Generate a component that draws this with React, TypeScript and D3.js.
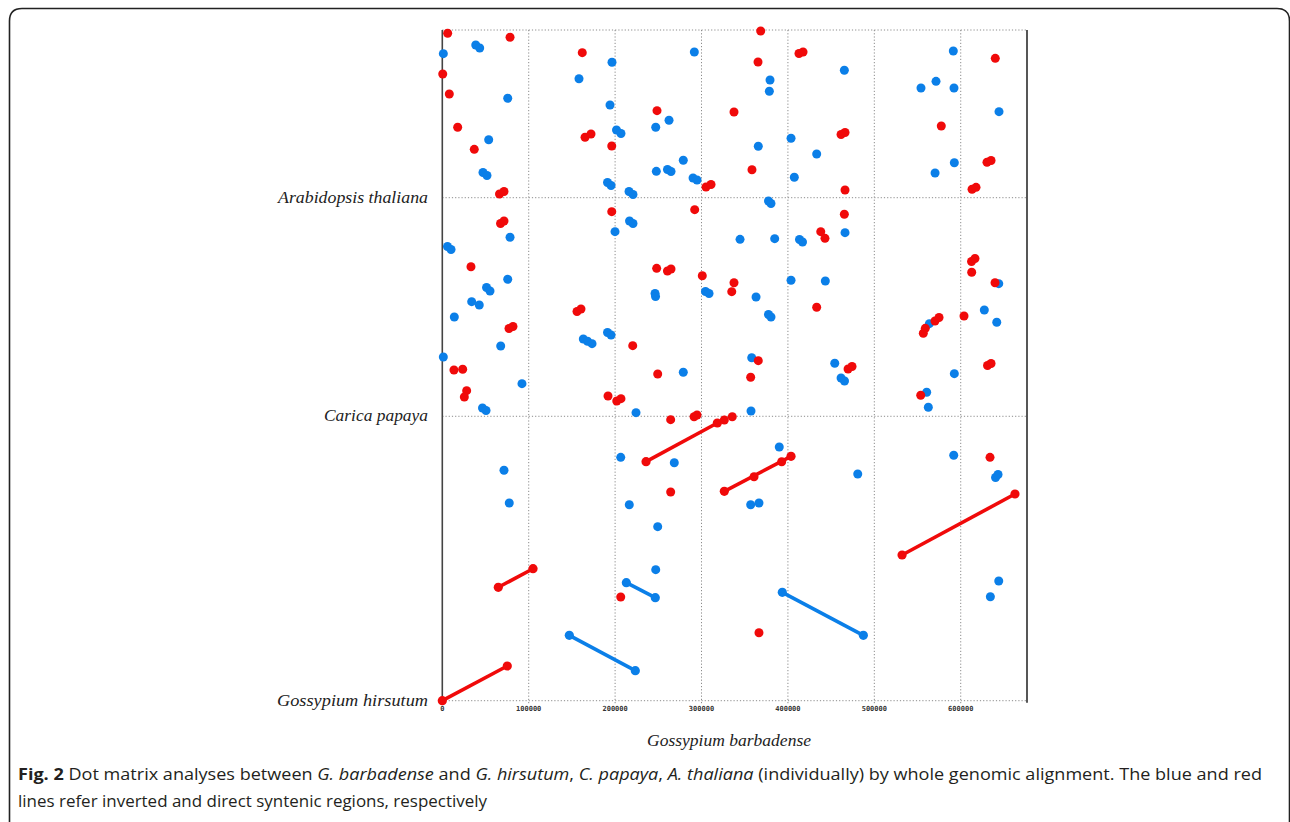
import React from "react";
import * as d3 from "d3";

// ---- data (x: G. barbadense position in kb; y: cumulative position in kb over the three genomes) ----
const genomeNames = ["Gossypium hirsutum", "Carica papaya", "Arabidopsis thaliana"];
const genomeLengthsKb = [621.9, 478.0, 366.7];
const xGenomeName = "Gossypium barbadense";
const xLengthKb = 676.7;
const xTicksKb = [0, 100, 200, 300, 400, 500, 600];

// direct syntenic hits (red)
const redDots: [number, number][] = [
  [6.2, 1459.4], [78.4, 1450.7], [0.5, 1370.4], [8.1, 1326.7], [17.8, 1253.9], [37.0, 1205.7],
  [66.2, 1108.0], [71.4, 1113.5], [162.0, 1417.0], [165.2, 1232.0], [172.1, 1239.2], [196.1, 1213.0],
  [248.5, 1290.2], [337.6, 1287.3], [305.2, 1123.3], [311.0, 1128.8], [368.5, 1464.4], [365.4, 1396.6],
  [358.4, 1161.1], [412.8, 1415.3], [417.5, 1418.5], [461.5, 1238.1], [466.1, 1242.5], [466.1, 1116.8],
  [577.5, 1256.7], [640.0, 1404.7], [630.4, 1177.3], [635.1, 1181.3], [613.1, 1118.3], [617.7, 1122.6],
  [67.4, 1043.5], [71.4, 1049.0], [33.2, 949.0], [77.2, 813.9], [81.8, 818.3], [13.5, 723.1], [23.6, 724.7],
  [28.2, 677.9], [25.5, 664.1], [155.9, 851.1], [160.5, 856.5], [196.1, 1069.3], [220.4, 776.3], [191.8, 666.3],
  [201.9, 655.4], [206.8, 660.4], [248.1, 945.5], [260.6, 939.6], [264.7, 944.0], [249.3, 714.4],
  [292.1, 1073.7], [291.4, 621.0], [294.8, 624.7], [300.9, 929.3], [337.6, 914.0], [335.0, 894.4],
  [365.7, 743.5], [356.9, 707.2], [438.0, 1025.6], [442.9, 1011.1], [465.3, 1063.6], [433.3, 860.3],
  [469.6, 725.3], [474.2, 730.8], [570.2, 830.3], [574.9, 838.0], [556.7, 803.4], [559.0, 814.3],
  [553.7, 667.8], [612.5, 960.4], [616.5, 967.0], [612.7, 936.8], [639.7, 914.0], [603.8, 841.2],
  [631.0, 733.0], [635.1, 737.4],
  [264.3, 614.5], [326.4, 613.8], [335.6, 621.0], [264.3, 456.4], [206.5, 226.8], [366.5, 148.7],
  [633.9, 532.2], [360.8, 489.8], [392.8, 522.6],
];

// inverted syntenic hits (blue)
const blueDots: [number, number][] = [
  [1.2, 1414.8], [38.7, 1433.8], [43.3, 1427.3], [75.7, 1317.3], [53.7, 1226.7], [47.1, 1155.0], [51.7, 1148.5],
  [158.2, 1360.1], [196.4, 1396.0], [194.1, 1302.6], [201.6, 1248.0], [206.8, 1240.3], [191.2, 1133.2], [195.3, 1126.6],
  [216.1, 1113.5], [220.7, 1106.9], [247.0, 1253.9], [262.4, 1269.2], [278.9, 1181.7], [247.7, 1157.6],
  [260.6, 1161.6], [264.7, 1157.2], [290.2, 1143.0], [294.8, 1138.6], [291.7, 1418.5], [379.3, 1357.3],
  [378.5, 1332.6], [365.7, 1212.3], [465.3, 1378.5], [403.6, 1229.8], [433.3, 1195.5], [407.4, 1144.5],
  [591.4, 1420.7], [571.4, 1354.4], [554.0, 1339.8], [592.2, 1339.8], [644.3, 1288.0], [592.6, 1176.4], [570.3, 1153.9],
  [6.0, 993.2], [10.1, 986.6], [78.4, 1013.3], [75.7, 921.5], [51.2, 903.5], [55.2, 895.9], [34.0, 872.5],
  [42.8, 865.3], [13.9, 839.0], [67.6, 775.6], [1.2, 751.6], [92.2, 693.2], [46.5, 640.1], [50.6, 634.6],
  [163.2, 790.9], [168.1, 785.9], [173.3, 780.7], [191.2, 805.1], [195.3, 799.7], [199.9, 1025.6],
  [216.7, 1049.0], [220.7, 1043.5], [246.2, 890.4], [246.8, 883.9], [278.9, 718.1], [224.2, 629.8],
  [304.6, 894.8], [308.7, 890.4], [344.6, 1008.9], [377.5, 1092.7], [380.4, 1087.2], [384.7, 1010.3],
  [363.1, 882.8], [377.5, 844.5], [380.4, 839.0], [358.1, 750.0], [357.3, 633.5], [413.4, 1008.5], [416.9, 1003.0],
  [466.1, 1023.4], [403.6, 919.3], [443.3, 917.8], [454.2, 737.8], [461.5, 705.6], [465.5, 699.1],
  [563.7, 824.4], [592.6, 715.1], [560.6, 674.4], [562.5, 641.6], [644.0, 911.9], [627.3, 854.4], [641.7, 827.5],
  [71.4, 503.8], [77.5, 432.3], [206.5, 532.2], [216.4, 428.6], [249.3, 380.5], [247.0, 286.5], [268.5, 520.4],
  [390.0, 554.8], [356.9, 428.6], [366.5, 432.3], [480.8, 495.7], [591.9, 536.6], [640.3, 488.1], [643.2, 494.6],
  [644.0, 261.7], [634.3, 227.4],
];

// longer syntenic blocks: [x1, y1, x2, y2]
const redLines: [number, number, number, number][] = [
  [0, 0, 75.2, 75.9],
  [64.8, 248.0, 105.0, 288.6],
  [235.8, 522.6, 318.3, 607.2],
  [326.4, 457.9, 403.6, 534.4],
  [532.1, 318.6, 662.8, 452.0],
];
const blueLines: [number, number, number, number][] = [
  [147.0, 143.0, 223.4, 65.6],
  [213.0, 258.0, 246.5, 225.2],
  [393.5, 237.0, 487.3, 143.0],
];

const RED = "#f00a0a";
const BLUE = "#0b7fe8";

export default function App() {
  const offsets = [0, ...d3.cumsum(genomeLengthsKb)];
  const total = offsets[offsets.length - 1];
  const x = d3.scaleLinear().domain([0, xLengthKb]).range([442.3, 1027]);
  const y = d3.scaleLinear().domain([0, total]).range([700.7, 30]);
  const x0 = x(0);
  const x1 = x(xLengthKb);
  const yTop = y(total);
  const yBot = y(0);
  const labelWidths = [151, 104, 150];

  const serif = "'Liberation Serif', 'DejaVu Serif', serif";
  const sans = "'Open Sans', 'Noto Sans', sans-serif";

  return (
    <svg
      width={1290}
      height={822}
      style={{ position: "fixed", left: 0, top: 0, background: "#fff" }}
    >
      <rect x={0} y={0} width={1290} height={822} fill="#fff" />
      {/* frame */}
      <path
        d="M9.5,824 L9.5,21 Q9.5,8.5 22,8.5 L1277,8.5 Q1289.5,8.5 1289.5,21 L1289.5,824"
        fill="none"
        stroke="#222"
        strokeWidth={1.6}
      />

      {/* vertical dotted grid */}
      {xTicksKb.filter((t) => t > 0).map((t) => (
        <line key={"vg" + t} x1={x(t)} x2={x(t)} y1={yTop} y2={yBot + 3}
          stroke="#8c8c8c" strokeWidth={1} strokeDasharray="1.2,2" />
      ))}
      {/* horizontal dotted grid */}
      {offsets.map((o, i) => (
        <line key={"hg" + i} x1={x0} x2={x1} y1={y(o)} y2={y(o)}
          stroke="#8c8c8c" strokeWidth={1} strokeDasharray="1.2,2" />
      ))}
      {/* axis borders */}
      <line x1={x0} x2={x0} y1={yTop} y2={yBot + 4} stroke="#444" strokeWidth={1.6} />
      <line x1={x1} x2={x1} y1={yTop} y2={yBot + 2} stroke="#444" strokeWidth={1.8} />

      {/* x tick labels */}
      {xTicksKb.map((t) => (
        <text key={"xt" + t} x={x(t)} y={yBot + 10} textAnchor="middle"
          fontFamily="'DejaVu Sans Mono', monospace" fontWeight="bold" fontSize={7} fill="#333">
          {String(t * 1000)}
        </text>
      ))}

      {/* y genome labels */}
      {genomeNames.map((g, i) => (
        <text key={g} x={428} y={y(offsets[i]) + 5} textAnchor="end" fontFamily={serif}
          fontStyle="italic" fontSize={17.5} fill="#222"
          textLength={labelWidths[i]} lengthAdjust="spacingAndGlyphs">
          {g}
        </text>
      ))}
      {/* x genome label */}
      <text x={729} y={746} textAnchor="middle" fontFamily={serif} fontStyle="italic"
        fontSize={17.5} fill="#222" textLength={164} lengthAdjust="spacingAndGlyphs">
        {xGenomeName}
      </text>

      {/* syntenic lines */}
      {redLines.map((d, i) => (
        <g key={"rl" + i}>
          <line x1={x(d[0])} y1={y(d[1])} x2={x(d[2])} y2={y(d[3])} stroke={RED} strokeWidth={3.6} />
          <circle cx={x(d[0])} cy={y(d[1])} r={4.6} fill={RED} />
          <circle cx={x(d[2])} cy={y(d[3])} r={4.6} fill={RED} />
        </g>
      ))}
      {blueLines.map((d, i) => (
        <g key={"bl" + i}>
          <line x1={x(d[0])} y1={y(d[1])} x2={x(d[2])} y2={y(d[3])} stroke={BLUE} strokeWidth={3.6} />
          <circle cx={x(d[0])} cy={y(d[1])} r={4.6} fill={BLUE} />
          <circle cx={x(d[2])} cy={y(d[3])} r={4.6} fill={BLUE} />
        </g>
      ))}

      {/* dots */}
      {blueDots.map((d, i) => (
        <circle key={"bd" + i} cx={x(d[0])} cy={y(d[1])} r={4.5} fill={BLUE} />
      ))}
      {redDots.map((d, i) => (
        <circle key={"rd" + i} cx={x(d[0])} cy={y(d[1])} r={4.5} fill={RED} />
      ))}

      {/* caption */}
      <text x={18} y={780} fontFamily={sans} fontSize={15.5} fill="#231f20"
        textLength={1244} lengthAdjust="spacingAndGlyphs" style={{ whiteSpace: "pre" }}>
        <tspan fontWeight="bold">Fig. 2</tspan>
        <tspan> Dot matrix analyses between </tspan>
        <tspan fontStyle="italic">G. barbadense</tspan>
        <tspan> and </tspan>
        <tspan fontStyle="italic">G. hirsutum</tspan>
        <tspan>, </tspan>
        <tspan fontStyle="italic">C. papaya</tspan>
        <tspan>, </tspan>
        <tspan fontStyle="italic">A. thaliana</tspan>
        <tspan> (individually) by whole genomic alignment. The blue and red</tspan>
      </text>
      <text x={18} y={807} fontFamily={sans} fontSize={15.5} fill="#231f20"
        textLength={469} lengthAdjust="spacingAndGlyphs">
        lines refer inverted and direct syntenic regions, respectively
      </text>
    </svg>
  );
}
